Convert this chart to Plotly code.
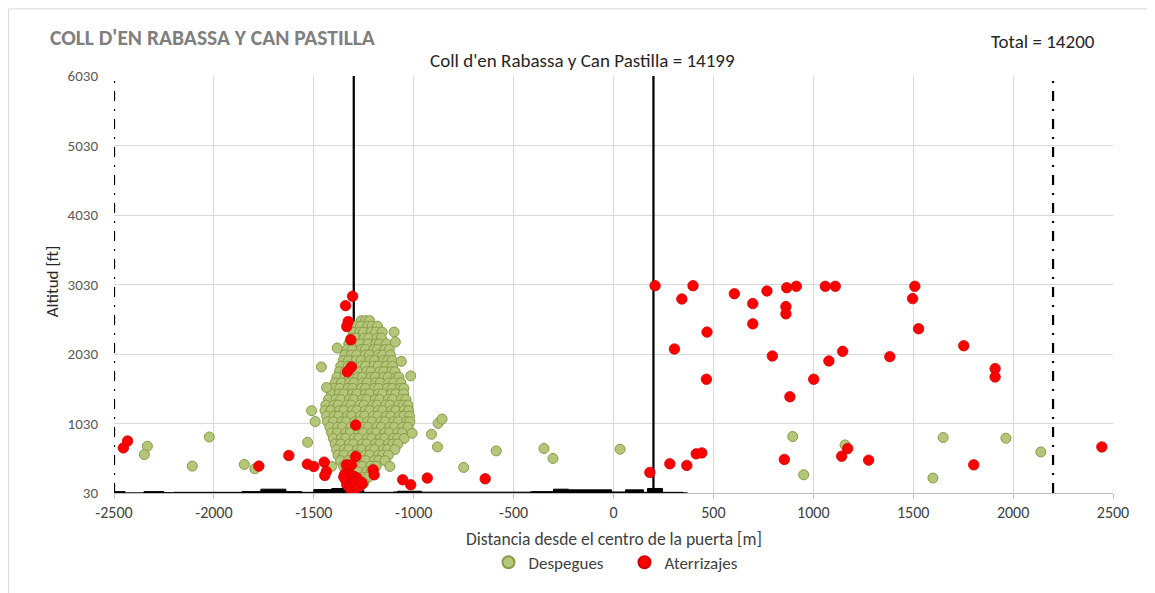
import plotly.graph_objects as go

# ---------------- data ----------------
# Ground / building profile along the axis (x in m, altitude in ft)
terrain_x = [-2500, -2445, -2350, -2250, -2200, -1860, -1765, -1640, -1560, -1500, -1410,
             -1350, -1250, -1100, -1080, -960, -420, -410, -300, -225, -10, 60, 150, 170, 245, 350, 370]
terrain_h = [50, 32, 50, 35, 40, 50, 85, 50, 40, 80, 95,
             70, 40, 45, 55, 42, 45, 50, 85, 75, 45, 75, 40, 95, 40, 32, 30]

# Reference vertical lines
gate_lines_x = [-1300, 200]
limit_lines_x = [-2500, 2200]
line_y = [30, 6030]

# Despegues: dense cluster (rows of altitude with x positions)
cluster_rows_y = [2510, 2430, 2345, 2260, 2175, 2095, 2015, 1935, 1855, 1775, 1695, 1615,
                  1535, 1455, 1375, 1295, 1215, 1135, 1055, 975, 895, 815, 735, 655,
                  575, 495, 415, 335, 255, 175]
cluster_rows_x = [
    [-1262, -1240, -1221],
    [-1293, -1266, -1230, -1208, -1181],
    [-1303, -1270, -1251, -1212, -1190, -1158],
    [-1312, -1290, -1247, -1225, -1183, -1162],
    [-1325, -1288, -1266, -1228, -1190, -1172, -1137],
    [-1333, -1308, -1262, -1241, -1200, -1181, -1145, -1122],
    [-1345, -1313, -1285, -1243, -1222, -1178, -1155, -1117],
    [-1352, -1326, -1288, -1262, -1220, -1196, -1152, -1131, -1108],
    [-1365, -1328, -1306, -1262, -1240, -1198, -1177, -1138, -1106],
    [-1372, -1343, -1300, -1280, -1236, -1213, -1170, -1149, -1110, -1093],
    [-1384, -1345, -1322, -1279, -1257, -1214, -1192, -1150, -1127, -1088, -1074],
    [-1393, -1362, -1320, -1298, -1255, -1233, -1190, -1168, -1125, -1100, -1064],
    [-1400, -1370, -1328, -1305, -1262, -1240, -1197, -1175, -1132, -1108, -1068, -1049],
    [-1412, -1373, -1350, -1307, -1285, -1242, -1220, -1177, -1155, -1112, -1090, -1050],
    [-1427, -1388, -1365, -1322, -1300, -1257, -1235, -1192, -1170, -1127, -1105, -1062, -1039],
    [-1440, -1400, -1378, -1335, -1313, -1270, -1248, -1205, -1183, -1140, -1118, -1075, -1051, -1029],
    [-1444, -1415, -1372, -1350, -1307, -1285, -1242, -1220, -1177, -1155, -1112, -1090, -1048, -1026],
    [-1436, -1398, -1375, -1332, -1310, -1267, -1245, -1202, -1180, -1137, -1115, -1072, -1050, -1021],
    [-1431, -1402, -1360, -1337, -1295, -1272, -1230, -1207, -1165, -1142, -1100, -1077, -1036, -1019],
    [-1419, -1380, -1357, -1315, -1292, -1250, -1227, -1185, -1162, -1120, -1097, -1055, -1029],
    [-1411, -1382, -1340, -1317, -1275, -1252, -1210, -1187, -1145, -1122, -1080, -1057],
    [-1402, -1362, -1340, -1297, -1275, -1232, -1210, -1167, -1145, -1102, -1080, -1048],
    [-1393, -1365, -1322, -1300, -1257, -1235, -1192, -1170, -1127, -1105, -1080],
    [-1386, -1347, -1325, -1282, -1260, -1217, -1195, -1152, -1130, -1094],
    [-1379, -1350, -1307, -1285, -1242, -1220, -1177, -1155, -1127],
    [-1366, -1327, -1305, -1262, -1240, -1197, -1175, -1143],
    [-1351, -1322, -1280, -1257, -1215, -1188],
    [-1339, -1300, -1277, -1235, -1213],
    [-1326, -1297, -1255, -1228],
    [-1310, -1280, -1250],
]

# Despegues: scattered points
dep_x = [-2333, -2348, -2108, -2023, -1848, -1795, -1531, -1511, -1493, -1436, -1411, -1119,
         -1008, -911, -878, -858, -881, -587, -750, -348, -303, 33, 897, 952, 1159, 1650,
         1964, 2139, 1599, -1098, -1092, -1383, -1062, -1462, -1015]
dep_y = [703, 584, 417, 836, 441, 378, 760, 1214, 1057, 1548, 412, 412,
         889, 875, 1032, 1094, 693, 636, 398, 670, 527, 660, 842, 292, 722, 828,
         818, 621, 245, 2345, 2202, 2116, 1924, 1844, 1715]

# Aterrizajes
arr_x = [-2453, -2432, -1775, -1625, -1532, -1500, -1448, -1437, -1445, -1290, -1290,
         -1337, -1312, -1203, -1198, -1258, -1055, -1015, -932, -642,
         -1306, -1341, -1328, -1335, -1315, -1312, -1332,
         -1345, -1330, -1315, -1300, -1285, -1340, -1325, -1310, -1295, -1335, -1320,
         -1305, -1290, -1315, -1300, -1275, -1260, -1350,
         182, 282, 367, 414, 442, 855, 208, 342, 398, 468, 305, 465, 605, 697, 697,
         768, 795, 867, 915, 863, 863, 883, 1002, 1060, 1110, 1078, 1147, 1383, 1508,
         1497, 1527, 1753, 1910, 1910, 1142, 1172, 1277, 1803, 2444]
arr_y = [679, 779, 417, 570, 445, 412, 474, 341, 283, 1008, 555,
         435, 435, 364, 292, 159, 220, 149, 245, 235,
         2861, 2726, 2497, 2426, 2235, 1844, 1773,
         300, 280, 290, 270, 250, 220, 200, 210, 190, 150, 130,
         140, 160, 80, 60, 120, 180, 260,
         326, 450, 427, 593, 607, 513, 3013, 2822, 3013, 2345, 2102, 1667, 2898, 2755, 2464,
         2937, 2002, 2984, 3004, 2712, 2608, 1415, 1667, 3004, 3004, 1930, 2068, 1992, 3004,
         2827, 2393, 2149, 1820, 1700, 560, 670, 503, 435, 693]

x_ticks = [-2500, -2000, -1500, -1000, -500, 0, 500, 1000, 1500, 2000, 2500]
x_tick_text = ["-2500", "-2000", "-1500", "-1000", "-500", "0", "500", "1000", "1500", "2000", "2500"]
y_ticks = [30, 1030, 2030, 3030, 4030, 5030, 6030]

# ---------------- figure ----------------
FONT = "Carlito, Lato, 'Liberation Sans', sans-serif"

clus_x = [x for row in cluster_rows_x for x in row]
clus_y = [y for y, row in zip(cluster_rows_y, cluster_rows_x) for _ in row]

fig = go.Figure()

fig.add_trace(go.Scatter(x=terrain_x, y=terrain_h, mode="lines", line=dict(color="black", width=1, shape="hv"),
                         fill="tozeroy", fillcolor="black", showlegend=False, hoverinfo="skip"))

for gx in gate_lines_x:
    fig.add_trace(go.Scatter(x=[gx, gx], y=line_y, mode="lines", line=dict(color="black", width=2.25),
                             showlegend=False, hoverinfo="skip"))
for lx in limit_lines_x:
    fig.add_trace(go.Scatter(x=[lx, lx], y=line_y, mode="lines",
                             line=dict(color="black", width=2.25, dash="10px,8px,2px,8px"),
                             showlegend=False, hoverinfo="skip"))

green_marker = dict(size=10, color="#b3c67a", line=dict(color="#8b9a46", width=1))
fig.add_trace(go.Scatter(x=clus_x + dep_x, y=clus_y + dep_y, mode="markers", name="Despegues",
                         marker=green_marker))
fig.add_trace(go.Scatter(x=arr_x, y=arr_y, mode="markers", name="Aterrizajes",
                         marker=dict(size=10.5, color="#ff0000", line=dict(color="#d00000", width=0.75))))

# The page body adds an 8px offset; the figure is sized to fill the rest of the window.
fig.update_layout(
    width=1147, height=585,
    margin=dict(l=106, r=42, t=68, b=98),
    plot_bgcolor="white", paper_bgcolor="white",
    font=dict(family=FONT, size=15, color="#595959"),
    showlegend=True,
    legend=dict(orientation="h", x=0.511, xanchor="center", y=-0.167, yanchor="middle",
                font=dict(size=17, color="#404040"), entrywidth=91, itemsizing="constant"),
    xaxis=dict(range=[-2500, 2500], tickvals=x_ticks, ticktext=x_tick_text,
               showgrid=True, gridcolor="#d9d9d9", gridwidth=1,
               zeroline=False, showline=True, linecolor="#bfbfbf", linewidth=1,
               ticks="outside", ticklen=5, tickcolor="#bfbfbf",
               tickfont=dict(size=16, color="#404040")),
    yaxis=dict(range=[30, 6030], tickvals=y_ticks, showgrid=True, gridcolor="#d9d9d9", gridwidth=1,
               zeroline=False, showline=False, ticks="", ticklabelstandoff=15,
               tickfont=dict(size=15, color="#595959")),
    annotations=[
        dict(text="<b>COLL D'EN RABASSA Y CAN PASTILLA</b>", xref="paper", yref="paper",
             x=-0.066, y=1.0907, xanchor="left", yanchor="middle", showarrow=False,
             font=dict(size=21.5, color="#7f7f7f")),
        dict(text="Coll d'en Rabassa y Can Pastilla = 14199", xref="paper", yref="paper",
             x=0.4685, y=1.038, xanchor="center", yanchor="middle", showarrow=False,
             font=dict(size=19, color="#262626")),
        dict(text="Total = 14200", xref="paper", yref="paper",
             x=0.930, y=1.0835, xanchor="center", yanchor="middle", showarrow=False,
             font=dict(size=19, color="#262626")),
        dict(text="Distancia desde el centro de la puerta [m]", xref="paper", yref="paper",
             x=0.5005, y=-0.1098, xanchor="center", yanchor="middle", showarrow=False,
             font=dict(size=17.5, color="#404040")),
        dict(text="Altitud [ft]", xref="paper", yref="paper", textangle=-90,
             x=-0.062, y=0.508, xanchor="center", yanchor="middle", showarrow=False,
             font=dict(size=17, color="#262626")),
    ],
    shapes=[dict(type="rect", xref="paper", yref="paper", x0=-0.1055, x1=1.037, y0=-0.26, y1=1.161,
                 line=dict(color="#d9d9d9", width=1), fillcolor="rgba(0,0,0,0)", layer="below")],
)

fig.write_html("out.html")
